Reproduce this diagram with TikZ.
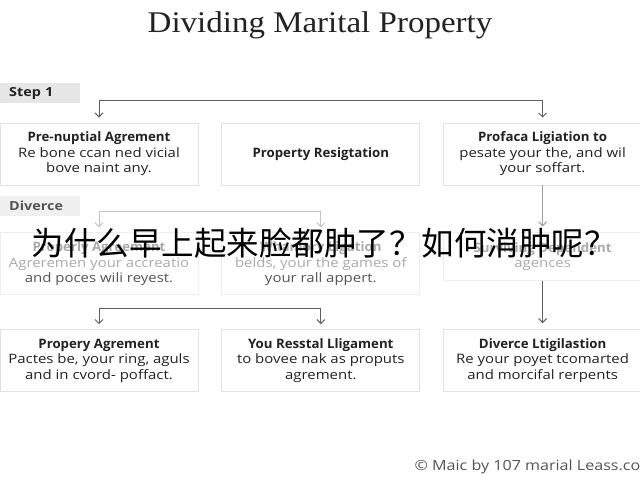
\documentclass[tikz,border=0pt]{standalone}
\usepackage{fontspec}
\setmainfont{Open Sans}[FakeStretch=1.15]
\newfontfamily\HeadFont{Open Sans}[FakeStretch=1.02]
\newfontfamily\TitleFont{Liberation Serif}[FakeStretch=1.1]
\newfontfamily\cjk{Noto Sans CJK SC}
\usetikzlibrary{positioning}
\usetikzlibrary{arrows.meta}
\newcommand{\CardWidth}{198pt}
\newcommand{\CardHeight}{62pt}
\newcommand{\CardGap}{23pt}
\newcommand{\RowGap}{47pt}
\newcommand{\TipLen}{4pt}
\newcommand{\TipWide}{8pt}
\newcommand{\BodySize}{\fontsize{13}{15.5}\selectfont}
\newcommand{\Head}[1]{{\HeadFont\bfseries #1}}
\definecolor{Ink}{RGB}{34, 34, 34}
\definecolor{Faded}{RGB}{170, 170, 170}
\definecolor{HalfFaded}{RGB}{85, 85, 85}
\definecolor{CardBorder}{RGB}{226, 226, 226}
\definecolor{CardBorderLight}{RGB}{238, 238, 238}
\definecolor{TagFill}{RGB}{230, 230, 230}
\definecolor{TagFillLight}{RGB}{240, 240, 240}
\definecolor{LineDark}{RGB}{95, 95, 95}
\definecolor{LineLight}{RGB}{195, 195, 195}
\tikzset{
  card/.style={draw=CardBorder, fill=white, line width=0.8pt, minimum width=\CardWidth,
    minimum height=\CardHeight, align=center, inner sep=1pt, text=Ink, font=\BodySize},
  fadecard/.style={card, draw=CardBorderLight, text=Faded},
  tag/.style={fill=TagFill, minimum width=80pt, minimum height=20pt, text width=62pt,
    inner xsep=9pt, inner ysep=0pt, align=left, anchor=west, text=Ink,
    font=\bfseries\fontsize{12.5}{14}\selectfont},
  fork/.style={draw=LineDark, line width=1pt, shorten <=5pt, shorten >=5pt,
    {Straight Barb[length=\TipLen,width=\TipWide]}-{Straight Barb[length=\TipLen,width=\TipWide]}},
  drop/.style={draw=LineDark, line width=1pt, shorten >=6pt,
    -{Straight Barb[length=\TipLen,width=\TipWide]}}
}

\begin{document}
\begin{tikzpicture}[x=1pt, y=-1pt]
  \tikzstyle{every node}=[font=\BodySize]
  \clip (0,0) rectangle (640,480);
  \fill[white] (0,0) rectangle (640,480);

  % Title
  \node[font=\TitleFont\fontsize{30}{32}\selectfont, text=Ink] (title) at (320,25) {Dividing Marital Property};

  % Step tags
  \node[tag] (stepone) at (0,93) {Step 1};
  \node[tag, fill=TagFillLight, text=HalfFaded] (divtag) at (0,205.5) {Diverce};

  % First row
  \node[card] (prenup) at (99,154) {\Head{Pre-nuptial Agrement}\\Re bone ccan ned vicial\\bove naint any.};
  \node[card, right=\CardGap of prenup] (resig) {\Head{Property Resigtation}};
  \node[card, right=\CardGap of resig] (litig) {\Head{Profaca Ligiation to}\\pesate your the, and wil\\your soffart.};

  % Second row (faded)
  \node[fadecard, below=\RowGap of prenup] (properly) {\Head{Properly Agreement}\\Agreremen your accreatio\\\textcolor{HalfFaded}{and poces wili reyest.}};
  \node[fadecard, right=\CardGap of properly] (whamory) {\Head{Whamory Ligation}\\belds, your the games of\\\textcolor{HalfFaded}{your rall appert.}};
  \node[fadecard, minimum height=48pt, below=\RowGap of litig] (agency) {\Head{Surviving Dependent}\\agences};

  % Third row
  \node[card, below=34pt of properly] (propery) {\Head{Propery Agrement}\\Pactes be, your ring, aguls\\and in cvord- poffact.};
  \node[card, right=\CardGap of propery] (resstal) {\Head{You Resstal Lligament}\\to bovee nak as proputs\\agrement.};
  \node[card, right=\CardGap of resstal] (ltigil) {\Head{Diverce Ltigilastion}\\Re your poyet tcomarted\\and morcifal rerpents};

  % Connectors
  \coordinate (forkone) at (0,100);
  \coordinate (forktwo) at (0,211);
  \coordinate (forkthree) at (0,308);
  \draw[fork] (prenup.north) |- (forkone -| litig.north) -- (litig.north);
  \draw[fork, draw=LineLight] (properly.north) |- (forktwo -| whamory.north) -- (whamory.north);
  \draw[fork] (propery.north) |- (forkthree -| resstal.north) -- (resstal.north);
  \draw[drop, draw=LineDark!60] (litig.south) -- (agency.north);
  \draw[drop] (agency.south) -- (ltigil.north);

  % Footer
  \node[anchor=west, text=HalfFaded, font=\fontsize{14}{16}\selectfont] (credit) at (411,467) {© Maic by 107 marial Leass.com};

  % Overlay caption
  \node[font=\cjk\fontsize{32.5}{34}\selectfont, text=black, inner sep=0pt] (caption) at (324,243) {为什么早上起来脸都肿了？如何消肿呢？};
\end{tikzpicture}
\end{document}
